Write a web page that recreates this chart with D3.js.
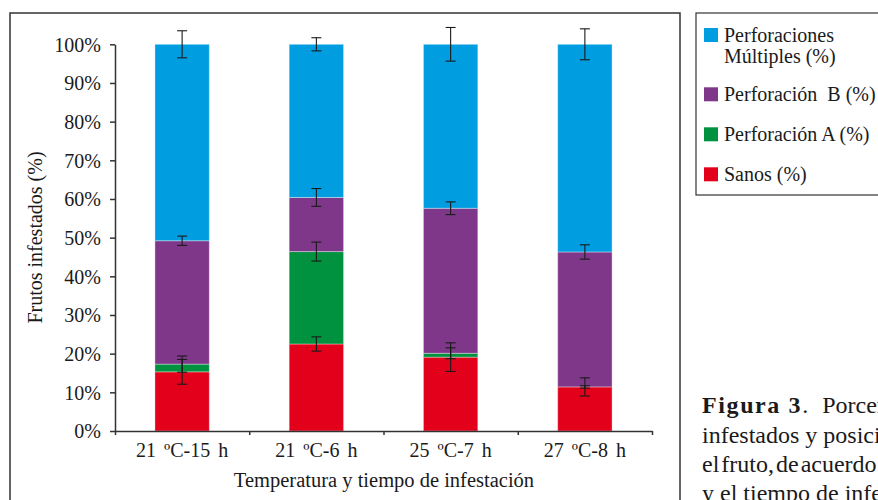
<!DOCTYPE html>
<html>
<head>
<meta charset="utf-8">
<script src="https://cdn.jsdelivr.net/npm/d3@7"></script>
<style>
  body { margin: 0; background: #fff; }
  svg { display: block; }
  text { font-family: "Liberation Serif", "Times New Roman", serif; fill: #1a1a1a; }
</style>
</head>
<body>
<svg id="chart" width="878" height="500"></svg>
<script>
// data (percent, stacked bottom -> top)
const categories = ["21 ºC-15 h", "21 ºC-6 h", "25 ºC-7 h", "27 ºC-8 h"];
const sanos     = [15.3, 22.5, 19.1, 11.4];
const perfA     = [2.0, 23.9, 1.0, 0.0];
const perfB     = [31.9, 14.0, 37.5, 34.9];
const multiples = [50.8, 39.6, 42.4, 53.7];

const errSanos = [3.2, 1.85, 3.7, 2.35];
const errA     = [2.1, 2.45, 1.4, 0.3];
const errB     = [1.2, 2.3, 1.65, 1.85];
const errM     = [3.5, 1.7, 4.35, 4.0];

const yTicks = [0, 10, 20, 30, 40, 50, 60, 70, 80, 90, 100];

const colors = ["#e2001a", "#00923f", "#7f3889", "#009ee0"];

const rows = categories.map((c, i) => ({
  cat: c, s0: sanos[i], s1: perfA[i], s2: perfB[i], s3: multiples[i]
}));
const errs = [errSanos, errA, errB, errM];

const svg = d3.select("#chart");

// frames
svg.append("rect")
  .attr("x", 10).attr("y", 13).attr("width", 670).attr("height", 500)
  .attr("fill", "none").attr("stroke", "#333").attr("stroke-width", 1.5);
svg.append("rect")
  .attr("x", 696).attr("y", 13).attr("width", 200).attr("height", 182)
  .attr("fill", "none").attr("stroke", "#333").attr("stroke-width", 1.2);

const x = d3.scaleBand().domain(categories).range([115, 652]).padding(0);
const y = d3.scaleLinear().domain([0, 100]).range([431, 44.3]);
const barW = x.bandwidth() * 0.405;

const stack = d3.stack().keys(["s0", "s1", "s2", "s3"]);
const layers = stack(rows);

svg.append("g").selectAll("g")
  .data(layers)
  .join("g")
  .attr("fill", (d, i) => colors[i])
  .selectAll("rect")
  .data(d => d)
  .join("rect")
  .attr("x", d => x(d.data.cat) + x.bandwidth() / 2 - barW / 2)
  .attr("y", d => y(d[1]))
  .attr("width", barW)
  .attr("height", d => y(d[0]) - y(d[1]))
  .attr("stroke", "rgba(255,255,255,0.35)")
  .attr("stroke-width", 1);

// axes
const yAxis = svg.append("g")
  .attr("transform", "translate(115,0)")
  .call(d3.axisLeft(y).tickValues(yTicks).tickFormat(d => d + "%").tickSize(5).tickPadding(9).tickSizeOuter(0));
yAxis.selectAll("text").attr("font-size", 20).attr("dy", "0.34em");

const xAxis = svg.append("g")
  .attr("transform", "translate(0,431)")
  .call(d3.axisBottom(x).tickSize(0).tickPadding(12).tickSizeOuter(0));
xAxis.selectAll("text").attr("font-size", 20).attr("dy", "0.71em").style("word-spacing", "3px");

const xEdges = d3.scaleLinear().domain([0, categories.length]).range(x.range());
svg.append("g")
  .attr("transform", "translate(0,431)")
  .call(d3.axisBottom(xEdges).ticks(categories.length).tickFormat("").tickSize(4).tickSizeOuter(0))
  .select(".domain").remove();

svg.selectAll(".domain, .tick line").attr("stroke", "#333").attr("stroke-width", 1.5);
svg.selectAll(".tick text").attr("fill", "#1a1a1a");

// error bars
const capW = 10;
layers.forEach((layer, li) => {
  const g = svg.append("g").attr("stroke", "#1a1a1a").attr("stroke-width", 1.1);
  layer.forEach((d, i) => {
    const cx = x(d.data.cat) + x.bandwidth() / 2;
    const e = errs[li][i];
    const top = y(d[1] + e), bot = y(d[1] - e);
    g.append("line").attr("x1", cx).attr("x2", cx).attr("y1", top).attr("y2", bot);
    g.append("line").attr("x1", cx - capW / 2).attr("x2", cx + capW / 2).attr("y1", top).attr("y2", top);
    g.append("line").attr("x1", cx - capW / 2).attr("x2", cx + capW / 2).attr("y1", bot).attr("y2", bot);
  });
});

// axis titles
svg.append("text")
  .attr("x", 384).attr("y", 487)
  .attr("text-anchor", "middle").attr("font-size", 20.5)
  .text("Temperatura y tiempo de infestación");
svg.append("text")
  .attr("transform", "translate(42,237.5) rotate(-90)")
  .attr("text-anchor", "middle").attr("font-size", 20)
  .text("Frutos infestados (%)");

// legend (top entry first)
const legendRows = [
  { i: 3, lines: ["Perforaciones", "Múltiples (%)"], y: 28 },
  { i: 2, lines: ["Perforación  B (%)"], y: 87.3 },
  { i: 1, lines: ["Perforación A (%)"], y: 127.3 },
  { i: 0, lines: ["Sanos (%)"], y: 167.3 }
];
const lg = svg.append("g");
legendRows.forEach(r => {
  lg.append("rect").attr("x", 704).attr("y", r.y).attr("width", 14).attr("height", 14).attr("fill", colors[r.i]);
  const t = lg.append("text").attr("x", 724).attr("y", r.y + 13.5).attr("font-size", 20).style("white-space", "pre");
  r.lines.forEach((l, k) => t.append("tspan").attr("x", 724).attr("dy", k === 0 ? 0 : 21.7).text(l));
});

// caption (runs off the right edge, as in the source page)
const cap = svg.append("text").attr("x", 702).attr("y", 413).attr("font-size", 24);
cap.append("tspan").attr("font-weight", "bold").attr("letter-spacing", "1.6px").text("Figura 3");
cap.append("tspan").text(".");
cap.append("tspan").attr("dx", 14).text("Porcentaje de frutos");
const capLines = [
  { t: "infestados y posición de la perforación en", ws: 0 },
  { t: "el fruto, de acuerdo con la temperatura", ws: -4 },
  { t: "y el tiempo de infestación.", ws: 0 }
];
capLines.forEach((l, k) => {
  svg.append("text").attr("x", 702).attr("y", 442.8 + k * 29).attr("font-size", 24)
    .style("word-spacing", l.ws + "px").text(l.t);
});
</script>
</body>
</html>
